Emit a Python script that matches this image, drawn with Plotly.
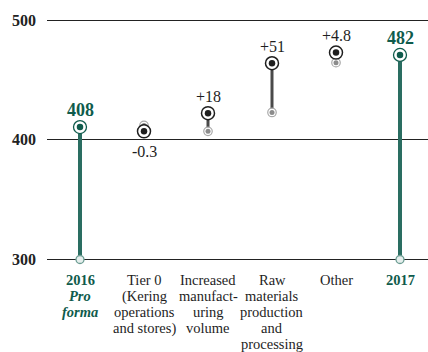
import plotly.graph_objects as go

# ---- data ----
cat_lines = [
    ["2016", "<i>Pro</i>", "<i>forma</i>"],
    ["Tier 0", "(Kering", "operations", "and stores)"],
    ["Increased", "manufact-", "uring", "volume"],
    ["Raw", "materials", "production", "and", "processing"],
    ["Other"],
    ["2017"],
]
total_idx = [0, 5]
total_vals = [410.6, 470.8]
total_labels = ["408", "482"]

step_idx = [1, 2, 3, 4]
step_start = [412.0, 407.0, 422.8, 464.4]
step_end = [407.0, 422.2, 463.9, 472.8]
step_labels = ["-0.3", "+18", "+51", "+4.8"]

y_ticks = [300, 400, 500]
y_base = 300

GREEN = "#0f5b4c"
GREEN_STEM = "#2a6d61"
DARK = "#1e1e1e"
FONT = "Liberation Serif"

fig = go.Figure()

# stems for totals
for i, v in zip(total_idx, total_vals):
    fig.add_trace(go.Scatter(x=[i, i], y=[y_base, v], mode="lines",
                             line=dict(color=GREEN_STEM, width=4),
                             hoverinfo="skip", showlegend=False, cliponaxis=False))
# stems for steps
for i, s, e in zip(step_idx, step_start, step_end):
    fig.add_trace(go.Scatter(x=[i, i], y=[s, e], mode="lines",
                             line=dict(color="#4a4a4a", width=3),
                             hoverinfo="skip", showlegend=False, cliponaxis=False))

# base markers of totals
fig.add_trace(go.Scatter(x=total_idx, y=[y_base] * len(total_idx), mode="markers",
                         marker=dict(size=8, color="#e6efed", line=dict(color="#6b9c92", width=1.3)),
                         hoverinfo="skip", showlegend=False, cliponaxis=False))
# total top markers
fig.add_trace(go.Scatter(x=total_idx, y=total_vals, mode="markers",
                         marker=dict(size=13, color="white", line=dict(color=GREEN, width=1.3)),
                         hoverinfo="skip", showlegend=False, cliponaxis=False))
fig.add_trace(go.Scatter(x=total_idx, y=total_vals, mode="markers",
                         marker=dict(size=6.5, color=GREEN, line=dict(width=0)),
                         hoverinfo="skip", showlegend=False, cliponaxis=False))
# step start markers (grey)
fig.add_trace(go.Scatter(x=step_idx, y=step_start, mode="markers",
                         marker=dict(size=8.5, color="white", line=dict(color="#a8a8a8", width=1.2)),
                         hoverinfo="skip", showlegend=False, cliponaxis=False))
fig.add_trace(go.Scatter(x=step_idx, y=step_start, mode="markers",
                         marker=dict(size=5, color="#8c8c8c", line=dict(width=0)),
                         hoverinfo="skip", showlegend=False, cliponaxis=False))
# step end markers (black)
fig.add_trace(go.Scatter(x=step_idx, y=step_end, mode="markers",
                         marker=dict(size=13, color="white", line=dict(color=DARK, width=1.5)),
                         hoverinfo="skip", showlegend=False, cliponaxis=False))
fig.add_trace(go.Scatter(x=step_idx, y=step_end, mode="markers",
                         marker=dict(size=6.5, color=DARK, line=dict(width=0)),
                         hoverinfo="skip", showlegend=False, cliponaxis=False))

annotations = []
# value labels
for i, v, t in zip(total_idx, total_vals, total_labels):
    annotations.append(dict(x=i, y=v, xref="x", yref="y", text="<b>" + t + "</b>",
                            showarrow=False, yshift=17, yanchor="middle",
                            font=dict(family=FONT, size=18, color=GREEN)))
for i, s, e, t in zip(step_idx, step_start, step_end, step_labels):
    if e >= s:
        ys, yv = 17, e
    else:
        ys, yv = -20, e
    annotations.append(dict(x=i, y=yv, xref="x", yref="y", text=t,
                            showarrow=False, yshift=ys, yanchor="middle",
                            font=dict(family=FONT, size=16, color=DARK)))
# category labels, one line each
for i, lines in enumerate(cat_lines):
    is_total = i in total_idx
    for k, ln in enumerate(lines):
        txt = "<b>" + ln + "</b>" if is_total else ln
        annotations.append(dict(x=i, y=0, xref="x", yref="paper", text=txt,
                                showarrow=False, yanchor="middle", yshift=-16 - 16 * k,
                                font=dict(family=FONT, size=14.5,
                                          color=GREEN if is_total else DARK)))

fig.update_layout(
    width=428, height=352,
    margin=dict(l=47, r=0, t=16, b=88),
    paper_bgcolor="white", plot_bgcolor="white",
    annotations=annotations,
    xaxis=dict(range=[-0.5156, 5.4375], showgrid=False, zeroline=False,
               showticklabels=False, ticks="", showline=False, fixedrange=True),
    yaxis=dict(range=[296.24, 503.34], tickvals=y_ticks,
               ticktext=["<b>%d</b>" % v for v in y_ticks],
               showgrid=True, gridcolor="#222222", gridwidth=1.4, zeroline=False,
               showline=False, ticks="", ticklabelstandoff=10,
               tickfont=dict(family=FONT, size=16, color="#222222"), fixedrange=True),
    showlegend=False,
)

fig.write_html("out.html", config={"displayModeBar": False},
               post_script="document.body.style.margin='0';document.body.style.overflow='hidden';")
